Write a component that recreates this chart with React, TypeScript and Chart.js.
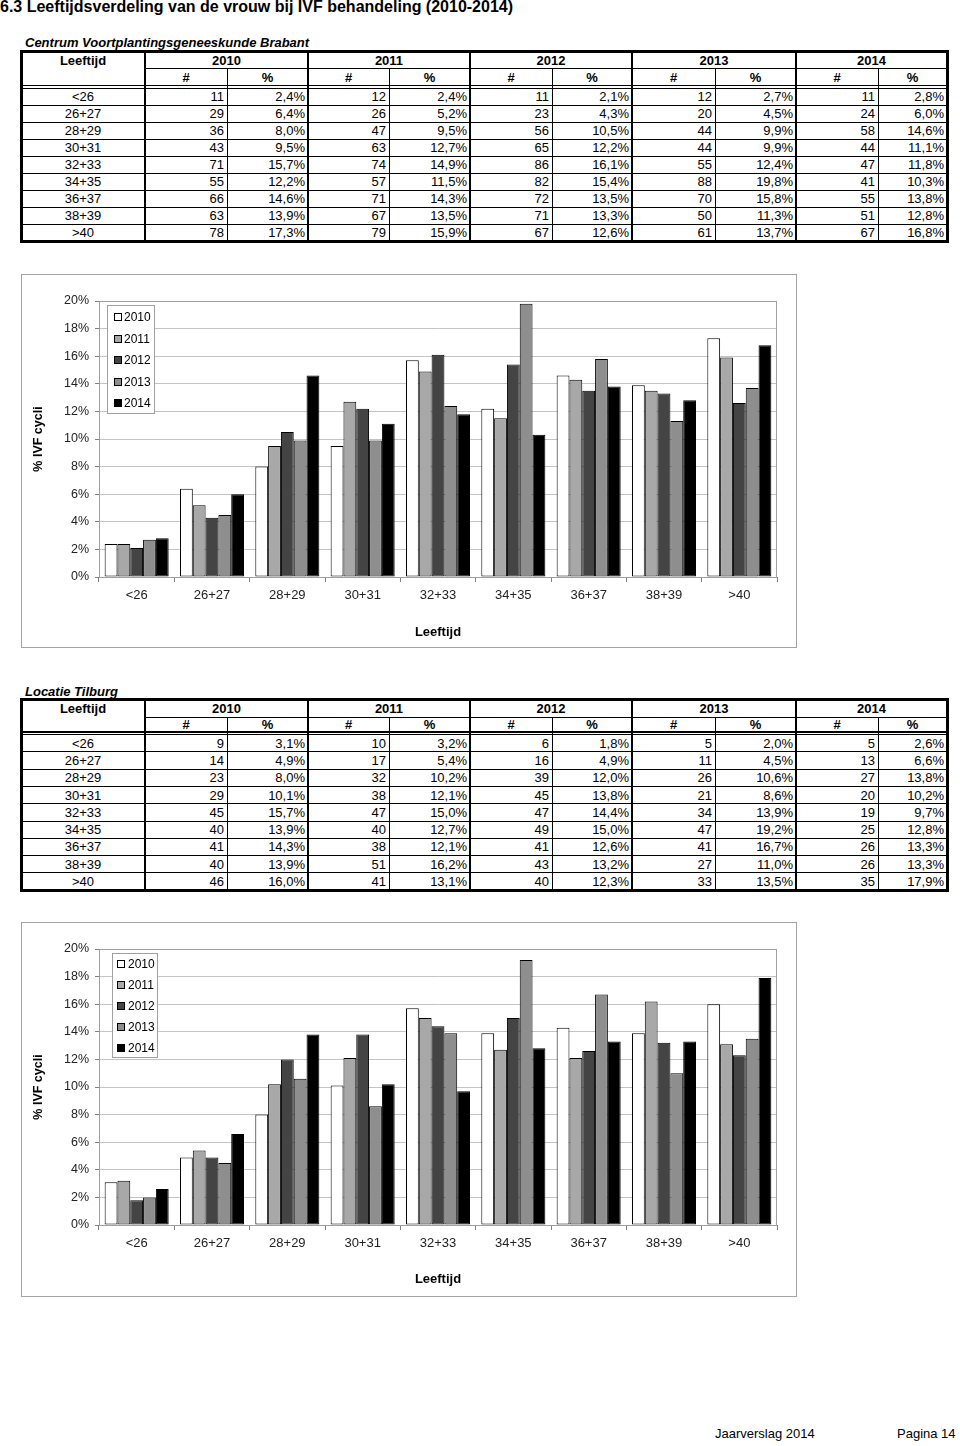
import React, { useEffect, useRef } from "react";
import { Chart, registerables } from "chart.js";
Chart.register(...registerables);

const FONT = '"Liberation Sans", Arial, Helvetica, sans-serif';

const categories = ["<26", "26+27", "28+29", "30+31", "32+33", "34+35", "36+37", "38+39", ">40"];
const years = ["2010", "2011", "2012", "2013", "2014"];
const yTickLabels = ["0%", "2%", "4%", "6%", "8%", "10%", "12%", "14%", "16%", "18%", "20%"];
const barColors = ["#ffffff", "#a8a8a8", "#444444", "#8e8e8e", "#000000"];

// Centrum Voortplantingsgeneeskunde Brabant
const brabantCount2010 = [11, 29, 36, 43, 71, 55, 66, 63, 78];
const brabantCount2011 = [12, 26, 47, 63, 74, 57, 71, 67, 79];
const brabantCount2012 = [11, 23, 56, 65, 86, 82, 72, 71, 67];
const brabantCount2013 = [12, 20, 44, 44, 55, 88, 70, 50, 61];
const brabantCount2014 = [11, 24, 58, 44, 47, 41, 55, 51, 67];
const brabantPct2010 = [2.4, 6.4, 8.0, 9.5, 15.7, 12.2, 14.6, 13.9, 17.3];
const brabantPct2011 = [2.4, 5.2, 9.5, 12.7, 14.9, 11.5, 14.3, 13.5, 15.9];
const brabantPct2012 = [2.1, 4.3, 10.5, 12.2, 16.1, 15.4, 13.5, 13.3, 12.6];
const brabantPct2013 = [2.7, 4.5, 9.9, 9.9, 12.4, 19.8, 15.8, 11.3, 13.7];
const brabantPct2014 = [2.8, 6.0, 14.6, 11.1, 11.8, 10.3, 13.8, 12.8, 16.8];

// Locatie Tilburg
const tilburgCount2010 = [9, 14, 23, 29, 45, 40, 41, 40, 46];
const tilburgCount2011 = [10, 17, 32, 38, 47, 40, 38, 51, 41];
const tilburgCount2012 = [6, 16, 39, 45, 47, 49, 41, 43, 40];
const tilburgCount2013 = [5, 11, 26, 21, 34, 47, 41, 27, 33];
const tilburgCount2014 = [5, 13, 27, 20, 19, 25, 26, 26, 35];
const tilburgPct2010 = [3.1, 4.9, 8.0, 10.1, 15.7, 13.9, 14.3, 13.9, 16.0];
const tilburgPct2011 = [3.2, 5.4, 10.2, 12.1, 15.0, 12.7, 12.1, 16.2, 13.1];
const tilburgPct2012 = [1.8, 4.9, 12.0, 13.8, 14.4, 15.0, 12.6, 13.2, 12.3];
const tilburgPct2013 = [2.0, 4.5, 10.6, 8.6, 13.9, 19.2, 16.7, 11.0, 13.5];
const tilburgPct2014 = [2.6, 6.6, 13.8, 10.2, 9.7, 12.8, 13.3, 13.3, 17.9];

const brabantCounts = [brabantCount2010, brabantCount2011, brabantCount2012, brabantCount2013, brabantCount2014];
const brabantPcts = [brabantPct2010, brabantPct2011, brabantPct2012, brabantPct2013, brabantPct2014];
const tilburgCounts = [tilburgCount2010, tilburgCount2011, tilburgCount2012, tilburgCount2013, tilburgCount2014];
const tilburgPcts = [tilburgPct2010, tilburgPct2011, tilburgPct2012, tilburgPct2013, tilburgPct2014];

const fmtPct = (v: number) => v.toFixed(1).replace(".", ",") + "%";

// ---------- Chart plugins ----------
const framePlugin = {
  id: "frame",
  beforeDraw(chart: any) {
    const { ctx, width, height, chartArea } = chart;
    ctx.save();
    ctx.fillStyle = "#ffffff";
    ctx.fillRect(0, 0, width, height);
    ctx.strokeStyle = "#a4a4a4";
    ctx.lineWidth = 1;
    ctx.strokeRect(0.5, 0.5, width - 1, height - 1);
    ctx.restore();
  },
  beforeDatasetsDraw(chart: any) {
    const { ctx, chartArea } = chart;
    ctx.save();
    ctx.strokeStyle = "#a0a0a0";
    ctx.lineWidth = 1;
    ctx.strokeRect(Math.round(chartArea.left) + 0.5, Math.round(chartArea.top) + 0.5,
      Math.round(chartArea.right - chartArea.left) - 1, Math.round(chartArea.bottom - chartArea.top));
    ctx.restore();
  },
};

const boxLegendPlugin = {
  id: "boxLegend",
  afterDraw(chart: any, _args: any, o: any) {
    const { ctx, chartArea } = chart;
    const x = Math.round(chartArea.left + o.dx);
    const y = Math.round(chartArea.top + o.dy);
    ctx.save();
    ctx.fillStyle = "#ffffff";
    ctx.fillRect(x, y, o.w, o.h);
    ctx.strokeStyle = "#a0a0a0";
    ctx.lineWidth = 1;
    ctx.strokeRect(x + 0.5, y + 0.5, o.w - 1, o.h - 1);
    ctx.font = `12px ${FONT}`;
    ctx.textBaseline = "middle";
    chart.data.datasets.forEach((ds: any, i: number) => {
      const cy = Math.round(y + o.first + i * o.step);
      ctx.fillStyle = ds.backgroundColor;
      ctx.fillRect(x + o.sq, cy - 4, 8, 8);
      ctx.strokeStyle = "#000";
      ctx.strokeRect(x + o.sq + 0.5, cy - 3.5, 7, 7);
      ctx.fillStyle = "#000";
      ctx.fillText(ds.label, x + o.tx, cy + 0.5);
    });
    ctx.restore();
  },
};

type ChartProps = {
  left: number; top: number; width: number; height: number;
  pcts: number[][];
  padTop: number; padRight: number; yAxisW: number; xAxisH: number; xTitlePad: number;
  legend: { dx: number; dy: number; w: number; h: number; first: number; step: number; sq: number; tx: number };
};

function BarChart(p: ChartProps) {
  const ref = useRef<HTMLCanvasElement>(null);
  useEffect(() => {
    if (!ref.current) return;
    const chart = new Chart(ref.current, {
      type: "bar",
      data: {
        labels: categories,
        datasets: years.map((yr, i) => ({
          label: yr,
          data: p.pcts[i],
          backgroundColor: barColors[i],
          borderColor: "#000000",
          borderWidth: 1,
          borderSkipped: false,
          categoryPercentage: 0.85,
          barPercentage: 1,
        })),
      },
      options: {
        responsive: false,
        animation: false,
        events: [],
        layout: { padding: { top: p.padTop, right: p.padRight, left: 0, bottom: 0 } },
        plugins: {
          legend: { display: false },
          tooltip: { enabled: false },
          boxLegend: p.legend,
        } as any,
        scales: {
          x: {
            type: "category",
            offset: true,
            grid: { display: true, offset: true, drawOnChartArea: false, drawTicks: true, tickLength: 5, color: "#808080", lineWidth: 1 },
            border: { display: true, color: "#808080", width: 1 },
            ticks: { color: "#222", font: { family: FONT, size: 13 }, padding: 6, maxRotation: 0, autoSkip: false },
            title: { display: true, text: "Leeftijd", color: "#000", font: { family: FONT, size: 13, weight: "bold" }, padding: { top: 0, bottom: p.xTitlePad } },
            afterFit: (s: any) => { s.height = p.xAxisH; },
          },
          y: {
            min: 0,
            max: 20,
            ticks: {
              stepSize: 2,
              color: "#222",
              font: { family: FONT, size: 12.5 },
              padding: 6,
              callback: (_v: any, i: number) => yTickLabels[i],
            },
            grid: { color: "#c4c4c4", lineWidth: 1, drawTicks: true, tickLength: 4, tickColor: "#808080" },
            border: { display: true, color: "#808080", width: 1 },
            title: { display: true, text: "% IVF cycli", color: "#000", font: { family: FONT, size: 12.5, weight: "bold" }, padding: { top: 10, bottom: 0 } },
            afterFit: (s: any) => { s.width = p.yAxisW; },
          },
        } as any,
      },
      plugins: [framePlugin, boxLegendPlugin],
    } as any);
    return () => chart.destroy();
  }, []);
  return (
    <canvas
      ref={ref}
      width={p.width}
      height={p.height}
      style={{ position: "absolute", left: p.left, top: p.top, width: p.width, height: p.height }}
    />
  );
}

// ---------- Table ----------
const colX = [21, 145, 227, 308, 389, 470, 552, 632, 715, 796, 878, 947];

type TableGeom = { top: number; h1: number; dbl1: number; dbl2: number; rowH: number };

function HL({ x1, x2, y, t }: { x1: number; x2: number; y: number; t: number }) {
  return <div style={{ position: "absolute", left: x1, width: x2 - x1, top: y - t / 2, height: t, background: "#000" }} />;
}
function VL({ x, y1, y2, t }: { x: number; y1: number; y2: number; t: number }) {
  return <div style={{ position: "absolute", left: x - t / 2, width: t, top: y1, height: y2 - y1, background: "#000" }} />;
}
function Txt({ x1, x2, yc, text, align, bold }: { x1: number; x2: number; yc: number; text: string; align: "left" | "center" | "right"; bold?: boolean }) {
  return (
    <div
      style={{
        position: "absolute",
        left: x1,
        width: x2 - x1,
        top: yc - 8,
        height: 16,
        lineHeight: "16px",
        fontSize: 13,
        fontFamily: FONT,
        fontWeight: bold ? "bold" : "normal",
        textAlign: align,
        whiteSpace: "nowrap",
        boxSizing: "border-box",
        paddingRight: align === "right" ? 3 : 0,
        color: "#000",
      }}
    >
      {text}
    </div>
  );
}

function DataTable({ g, counts, pcts }: { g: TableGeom; counts: number[][]; pcts: number[][] }) {
  const L = colX[0];
  const R = colX[colX.length - 1];
  const bottom = g.dbl2 + categories.length * g.rowH;
  const els: React.ReactNode[] = [];
  let k = 0;
  // header texts
  const hc1 = (g.top + g.h1) / 2;
  const hc2 = (g.h1 + g.dbl1) / 2;
  els.push(<Txt key={k++} x1={colX[0]} x2={colX[1]} yc={hc1 + 0.5} text="Leeftijd" align="center" bold />);
  years.forEach((yr, i) => {
    els.push(<Txt key={k++} x1={colX[1 + 2 * i]} x2={colX[3 + 2 * i]} yc={hc1 + 0.5} text={yr} align="center" bold />);
    els.push(<Txt key={k++} x1={colX[1 + 2 * i]} x2={colX[2 + 2 * i]} yc={hc2 + 0.5} text="#" align="center" bold />);
    els.push(<Txt key={k++} x1={colX[2 + 2 * i]} x2={colX[3 + 2 * i]} yc={hc2 + 0.5} text="%" align="center" bold />);
  });
  // data
  categories.forEach((cat, r) => {
    const yc = g.dbl2 + r * g.rowH + g.rowH / 2 + 0.5;
    els.push(<Txt key={k++} x1={colX[0]} x2={colX[1]} yc={yc} text={cat} align="center" />);
    years.forEach((_yr, i) => {
      els.push(<Txt key={k++} x1={colX[1 + 2 * i]} x2={colX[2 + 2 * i]} yc={yc} text={String(counts[i][r])} align="right" />);
      els.push(<Txt key={k++} x1={colX[2 + 2 * i]} x2={colX[3 + 2 * i]} yc={yc} text={fmtPct(pcts[i][r])} align="right" />);
    });
  });
  // horizontal lines
  els.push(<HL key={k++} x1={colX[1]} x2={R} y={g.h1} t={1} />);
  els.push(<HL key={k++} x1={L} x2={R} y={g.dbl1} t={1.5} />);
  els.push(<HL key={k++} x1={L} x2={R} y={g.dbl2} t={1} />);
  for (let r = 1; r < categories.length; r++) {
    els.push(<HL key={k++} x1={L} x2={R} y={g.dbl2 + r * g.rowH} t={1} />);
  }
  // vertical lines
  els.push(<VL key={k++} x={colX[1]} y1={g.top} y2={bottom} t={2.5} />);
  for (let i = 0; i < 4; i++) {
    els.push(<VL key={k++} x={colX[3 + 2 * i]} y1={g.top} y2={bottom} t={2} />);
  }
  for (let i = 0; i < 5; i++) {
    els.push(<VL key={k++} x={colX[2 + 2 * i]} y1={g.h1} y2={bottom} t={1} />);
  }
  // outer border
  els.push(<HL key={k++} x1={L - 1.5} x2={R + 1.5} y={g.top} t={3} />);
  els.push(<HL key={k++} x1={L - 1.5} x2={R + 1.5} y={bottom} t={3} />);
  els.push(<VL key={k++} x={L} y1={g.top} y2={bottom} t={3} />);
  els.push(<VL key={k++} x={R} y1={g.top} y2={bottom} t={3} />);
  return <>{els}</>;
}

function Label({ x, yc, text, size, bold, italic }: { x: number; yc: number; text: string; size: number; bold?: boolean; italic?: boolean }) {
  return (
    <div
      style={{
        position: "absolute",
        left: x,
        top: yc - size / 2 - 2,
        height: size + 4,
        lineHeight: `${size + 4}px`,
        fontSize: size,
        fontFamily: FONT,
        fontWeight: bold ? "bold" : "normal",
        fontStyle: italic ? "italic" : "normal",
        whiteSpace: "nowrap",
        color: "#000",
      }}
    >
      {text}
    </div>
  );
}

export default function App() {
  return (
    <div style={{ position: "absolute", left: 0, top: 0, width: 960, height: 1446, background: "#fff", overflow: "hidden" }}>
      <Label x={0} yc={7} text="6.3 Leeftijdsverdeling van de vrouw bij IVF behandeling (2010-2014)" size={16} bold />

      <Label x={25} yc={42.5} text="Centrum Voortplantingsgeneeskunde Brabant" size={13} bold italic />
      <DataTable g={{ top: 51.5, h1: 68.5, dbl1: 85.5, dbl2: 88, rowH: 17 }} counts={brabantCounts} pcts={brabantPcts} />

      <BarChart
        left={21} top={274} width={776} height={374}
        pcts={brabantPcts}
        padTop={27} padRight={20} yAxisW={78} xAxisH={71} xTitlePad={8}
        legend={{ dx: 8, dy: 4, w: 48, h: 109, first: 12, step: 21.6, sq: 7, tx: 17 }}
      />

      <Label x={25} yc={691} text="Locatie Tilburg" size={13} bold italic />
      <DataTable g={{ top: 699.5, h1: 717, dbl1: 732, dbl2: 734.5, rowH: 17.3 }} counts={tilburgCounts} pcts={tilburgPcts} />

      <BarChart
        left={21} top={922} width={776} height={375}
        pcts={tilburgPcts}
        padTop={27} padRight={20} yAxisW={78} xAxisH={72} xTitlePad={10}
        legend={{ dx: 13, dy: 4, w: 46, h: 105, first: 11, step: 21, sq: 5, tx: 16 }}
      />

      <Label x={715} yc={1433} text="Jaarverslag 2014" size={13} />
      <Label x={897} yc={1433} text="Pagina 14" size={13} />
    </div>
  );
}
